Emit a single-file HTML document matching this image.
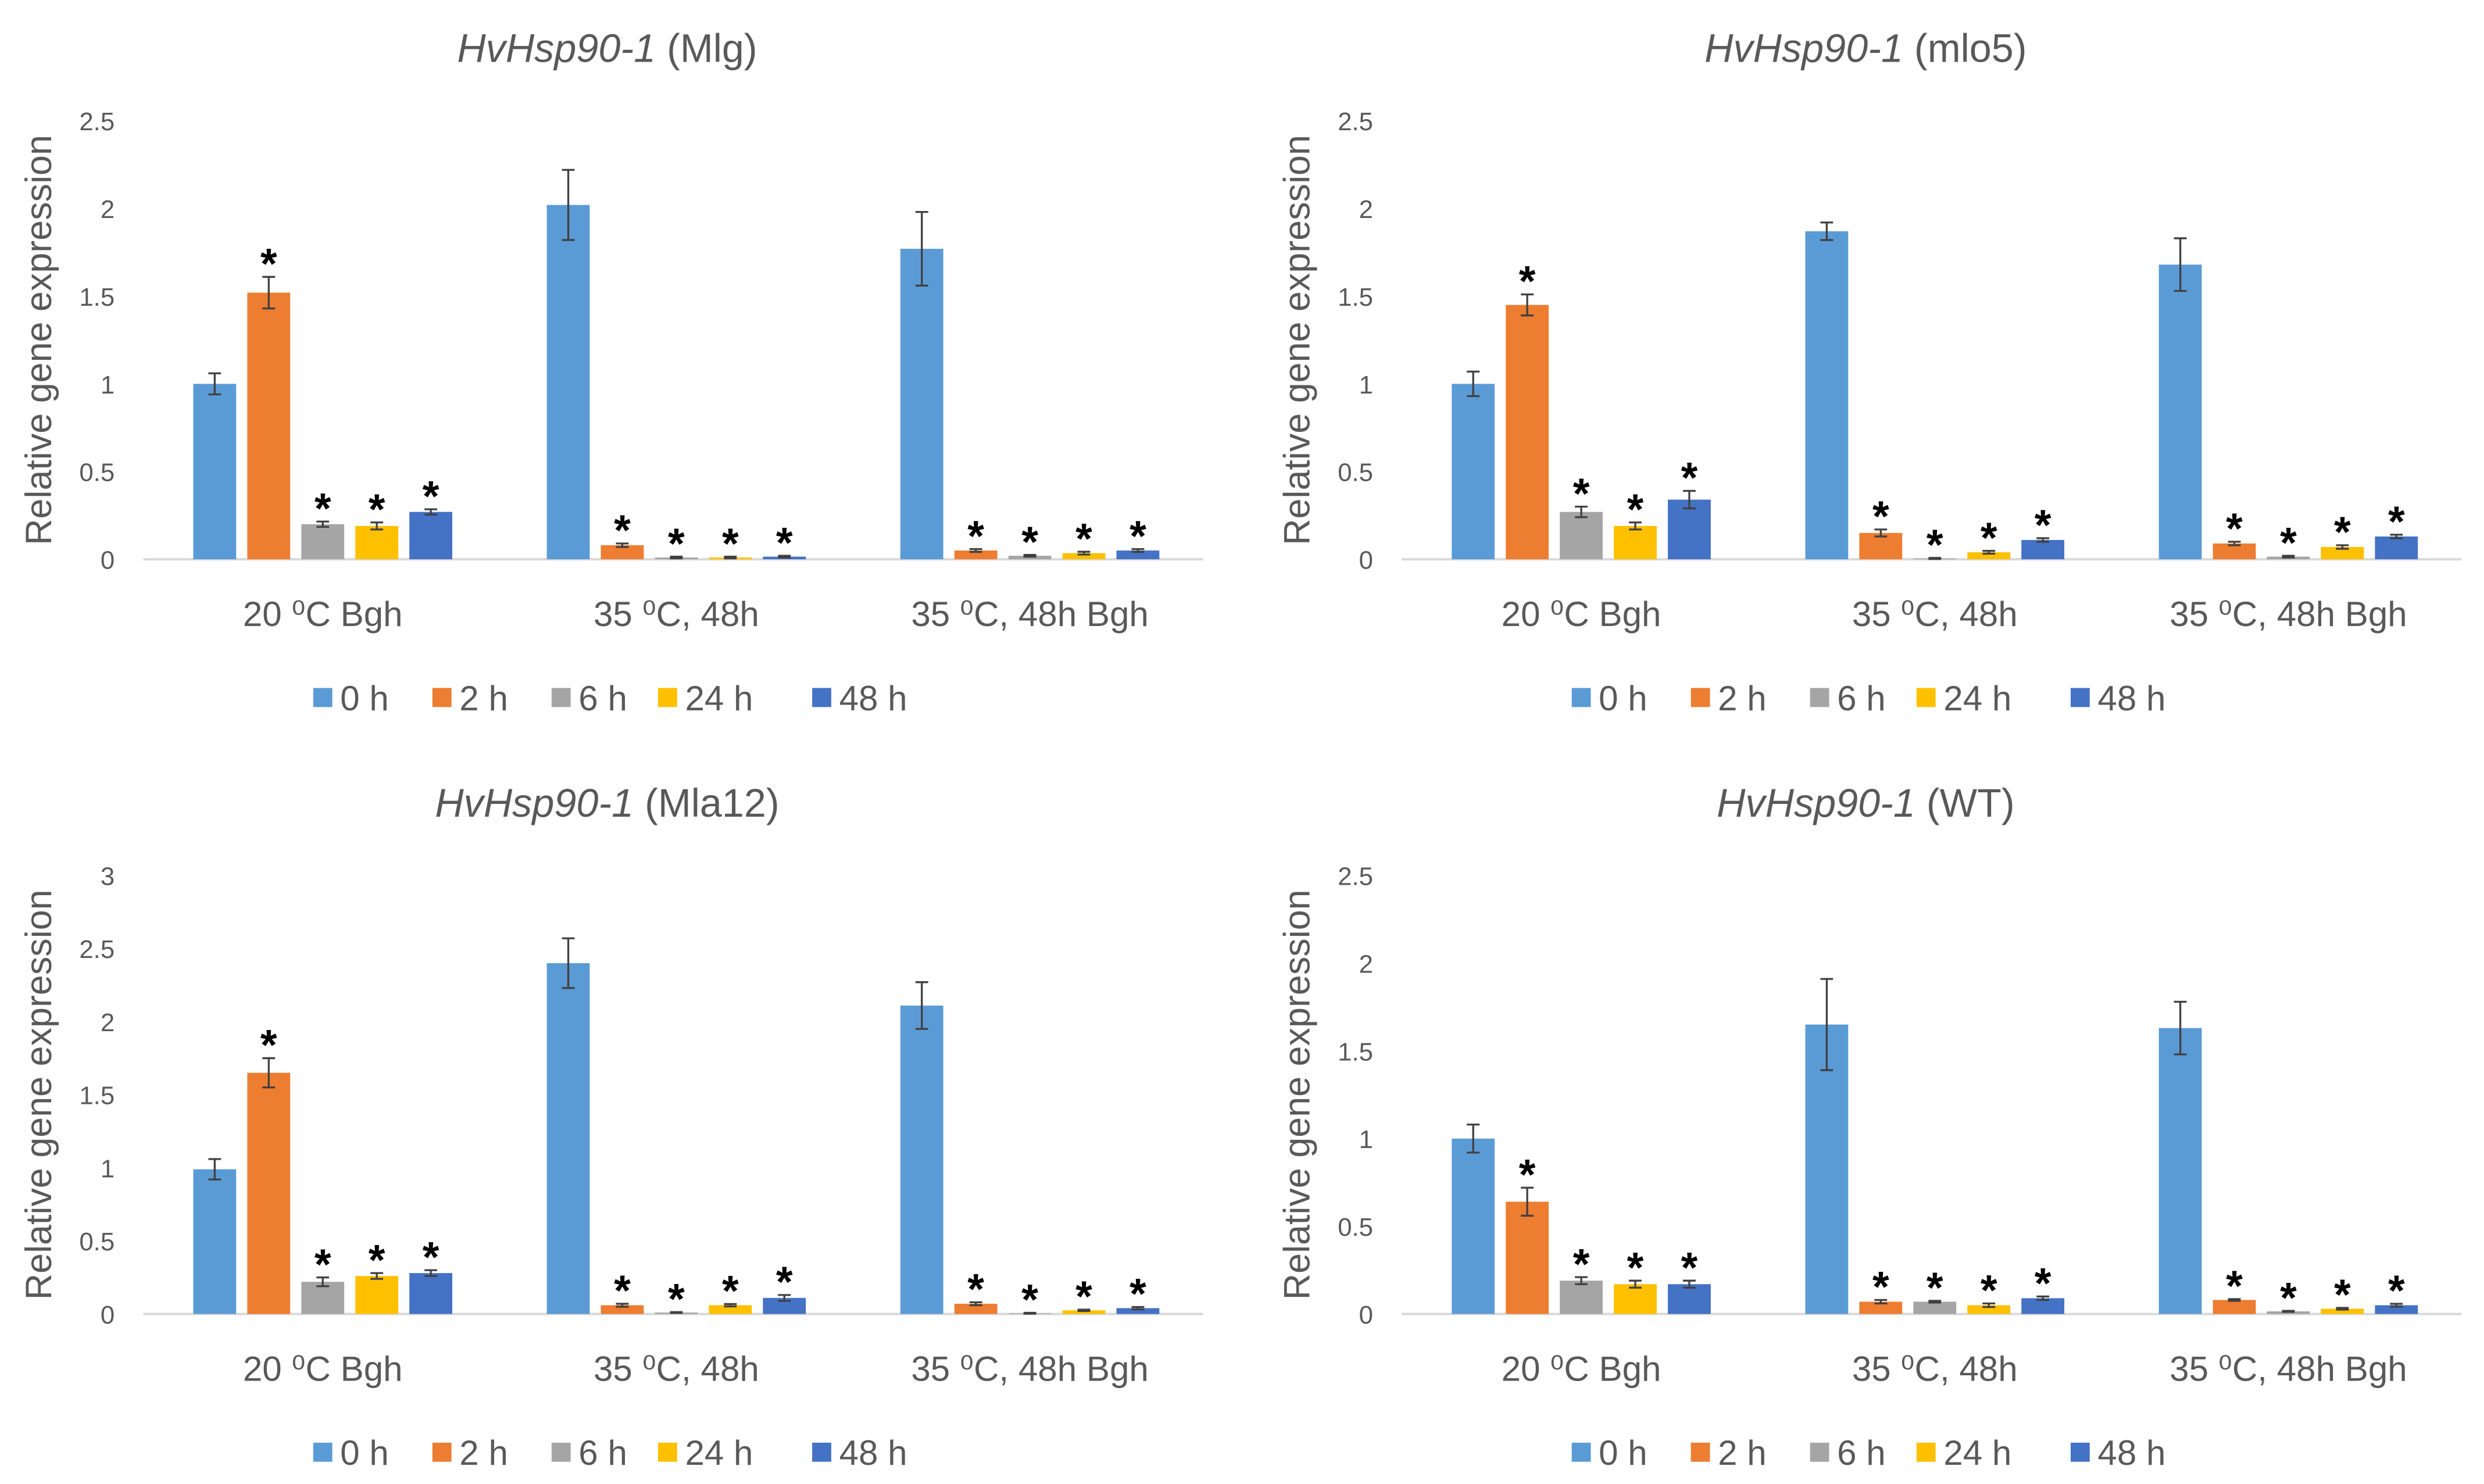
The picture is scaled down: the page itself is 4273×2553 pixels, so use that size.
<!DOCTYPE html>
<html><head><meta charset="utf-8"><style>
html,body{margin:0;padding:0;background:#fff;}
svg{display:block;}
text{font-family:"Liberation Sans",sans-serif;}
</style></head>
<body>
<svg id="chart" width="4273" height="2553" viewBox="0 0 1563 934" xmlns="http://www.w3.org/2000/svg"></svg>
<script>
const categories = ["20 \u2070C Bgh", "35 \u2070C, 48h", "35 \u2070C, 48h Bgh"];
const seriesNames = ["0 h", "2 h", "6 h", "24 h", "48 h"];
const panelTitles = ["(Mlg)", "(mlo5)", "(Mla12)", "(WT)"];
const panelMax = [2.5, 2.5, 3, 2.5];
const panelTicks = [[0,0.5,1,1.5,2,2.5],[0,0.5,1,1.5,2,2.5],[0,0.5,1,1.5,2,2.5,3],[0,0.5,1,1.5,2,2.5]];
const valuesMlg = [[1.0,1.52,0.2,0.19,0.27],[2.02,0.08,0.01,0.01,0.015],[1.77,0.05,0.02,0.035,0.05]];
const errorsMlg = [[0.06,0.09,0.015,0.02,0.015],[0.2,0.01,0.005,0.005,0.005],[0.21,0.008,0.005,0.008,0.008]];
const valuesMlo5 = [[1.0,1.45,0.27,0.19,0.34],[1.87,0.15,0.005,0.04,0.11],[1.68,0.09,0.015,0.07,0.13]];
const errorsMlo5 = [[0.07,0.06,0.03,0.02,0.05],[0.05,0.02,0.003,0.008,0.01],[0.15,0.01,0.005,0.01,0.01]];
const valuesMla12 = [[0.99,1.65,0.22,0.26,0.28],[2.4,0.06,0.01,0.06,0.11],[2.11,0.07,0.005,0.025,0.04]];
const errorsMla12 = [[0.07,0.1,0.03,0.02,0.02],[0.17,0.01,0.003,0.008,0.02],[0.16,0.01,0.003,0.005,0.008]];
const valuesWT = [[1.0,0.64,0.19,0.17,0.17],[1.65,0.07,0.07,0.05,0.09],[1.63,0.08,0.015,0.03,0.05]];
const errorsWT = [[0.08,0.08,0.02,0.02,0.02],[0.26,0.01,0.005,0.01,0.01],[0.15,0.005,0.003,0.005,0.008]];
const allValues = [valuesMlg, valuesMlo5, valuesMla12, valuesWT];
const allErrors = [errorsMlg, errorsMlo5, errorsMla12, errorsWT];
const colors = ["#5B9BD5","#ED7D31","#A5A5A5","#FFC000","#4472C4"];

const NS = "http://www.w3.org/2000/svg";
const svg = document.getElementById("chart");
function mk(tag, attrs, parent, txt){
  const e = document.createElementNS(NS, tag);
  for (const k in attrs) e.setAttribute(k, attrs[k]);
  if (txt !== undefined) e.textContent = txt;
  (parent||svg).appendChild(e);
  return e;
}
const offsets = [[0,0],[792,0],[0,475],[792,475]];
for (let p=0;p<4;p++){
  const ox = offsets[p][0], oy = offsets[p][1];
  const g = mk("g",{transform:`translate(${ox},${oy})`});
  
  
  const y0 = 352, yTop = 76;
  const ys = v => y0 - (v/panelMax[p])*(y0-yTop);
  const groupX = gi => 203 + gi*222.5;
  const barX = (gi, si) => groupX(gi) + (si-2)*34;
  const t = mk("text",{x:382,y:39,"text-anchor":"middle","font-size":25,fill:"#595959"},g);
  
  
  mk("tspan",{"font-style":"italic"},t,"HvHsp90-1");
  mk("tspan",{},t," "+panelTitles[p]);
  const yt = mk("text",{x:0,y:0,transform:`translate(32,${(y0+yTop)/2}) rotate(-90)`,"text-anchor":"middle","font-size":23,fill:"#595959"},g,"Relative gene expression");
  
  
  panelTicks[p].forEach(v=>{
    const tl = mk("text",{x:72,y:ys(v)+6,"text-anchor":"end","font-size":16,fill:"#595959"},g,String(v));
    
    
  });
  const ax = mk("line",{x1:90,x2:757,y1:y0,y2:y0,stroke:"#D9D9D9","stroke-width":1.5},g);
  
  
  const vals = allValues[p], errs = allErrors[p];
  for (let gi=0;gi<categories.length;gi++){
    for (let si=0;si<seriesNames.length;si++){
      const v = vals[gi][si], e = errs[gi][si];
      const cx = barX(gi,si);
      const r = mk("rect",{x:cx-13.5,y:ys(v),width:27,height:y0-ys(v),fill:colors[si]},g);
      
      
      const yh = ys(v+e), yl = ys(Math.max(0,v-e));
      const eb = mk("path",{d:`M${cx},${yh}V${yl}M${cx-4},${yh}H${cx+4}M${cx-4},${yl}H${cx+4}`,stroke:"#404040","stroke-width":1.2,fill:"none"},g);
      
      
      if (si!==0){
        const st = mk("text",{x:cx,y:yh+1,"text-anchor":"middle","font-size":27,"font-weight":"bold",fill:"#000"},g,"*");
        
        
      }
    }
    const cl = mk("text",{x:groupX(gi),y:394,"text-anchor":"middle","font-size":22,fill:"#595959"},g,categories[gi]);
    
    
  }
  const legX = [197,272,347,414,511];
  seriesNames.forEach((n,i)=>{
    const lg = mk("g",{},g);
    
    
    mk("rect",{x:legX[i],y:433,width:12,height:12,fill:colors[i]},lg);
    mk("text",{x:legX[i]+17,y:447,"font-size":22,fill:"#595959"},lg,n);
  });
}
</script>
</body></html>
